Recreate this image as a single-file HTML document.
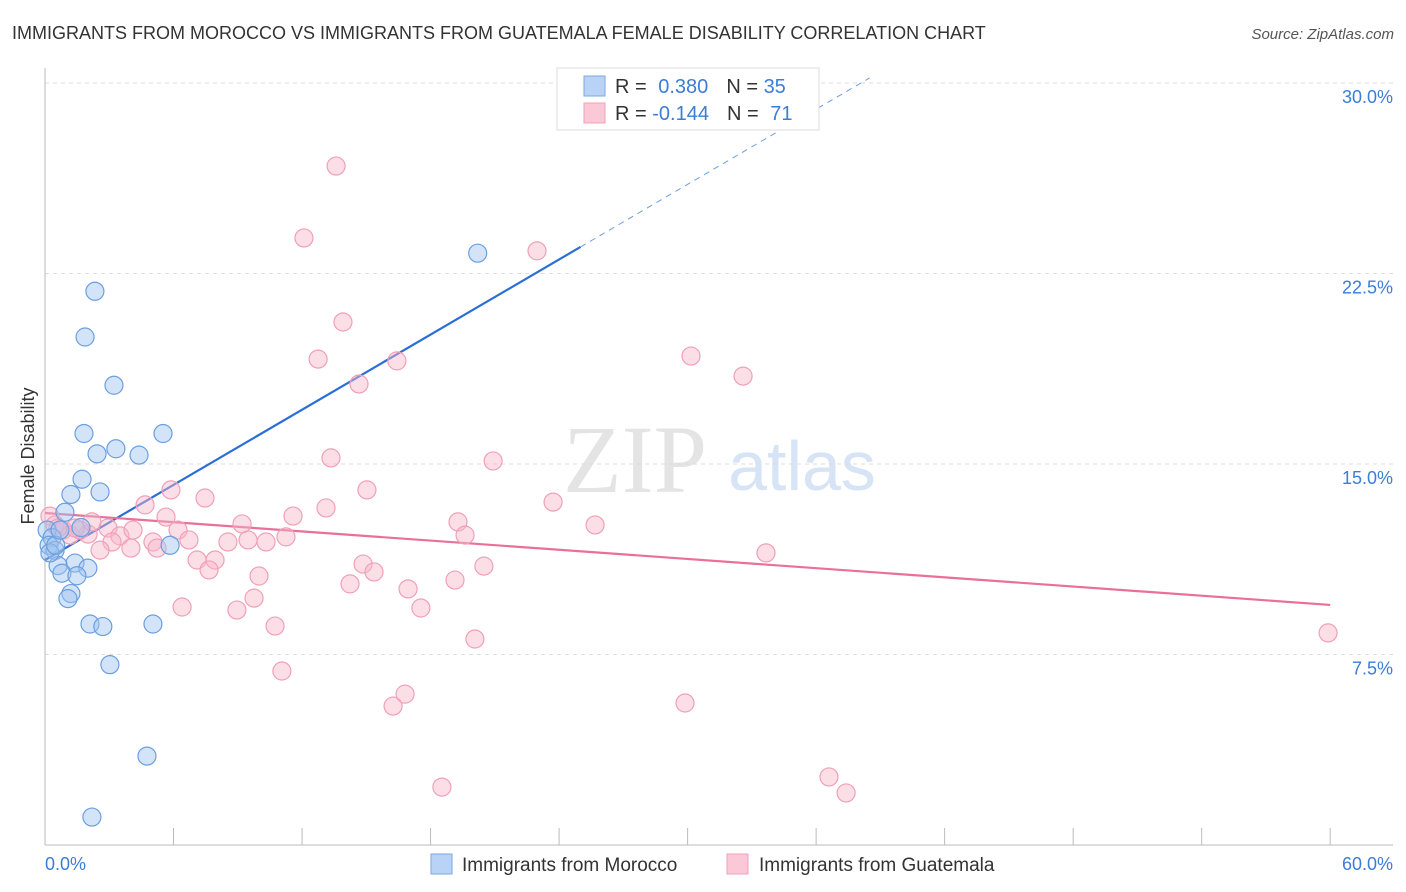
<!DOCTYPE html>
<html><head><meta charset="utf-8"><style>
body{margin:0;background:#fff;font-family:"Liberation Sans",sans-serif;}
svg{display:block}
</style></head><body>
<svg id="chart" width="1406" height="892" xmlns="http://www.w3.org/2000/svg">
<text x="12" y="39" font-size="18" fill="#333">IMMIGRANTS FROM MOROCCO VS IMMIGRANTS FROM GUATEMALA FEMALE DISABILITY CORRELATION CHART</text>
<text x="1394" y="39" font-size="15" fill="#555" font-style="italic" text-anchor="end">Source: ZipAtlas.com</text>
<text x="635" y="492" font-size="96" fill="#e4e4e4" font-family="Liberation Serif,serif" text-anchor="middle">ZIP</text>
<text x="802" y="490" font-size="70" fill="#d6e4f5" text-anchor="middle">atlas</text>
<g id="grid"></g>
<g id="axes"></g>
<text transform="translate(34,456) rotate(-90)" font-size="18" fill="#333" text-anchor="middle">Female Disability</text>
<g id="lines"></g>
<g id="pts"></g>
<g>
<rect x="557" y="68" width="262" height="62" fill="#fff" stroke="#ddd"/>
<rect x="584" y="76" width="21" height="20" fill="#b8d3f5" stroke="#7aa9e6"/>
<rect x="584" y="103" width="21" height="20" fill="#fac8d6" stroke="#f0a0b8"/>
<text x="615" y="93" font-size="20" fill="#333">R = <tspan fill="#3b7dd8" dx="6">0.380</tspan><tspan dx="18" fill="#333">N = </tspan><tspan fill="#3b7dd8">35</tspan></text>
<text x="615" y="120" font-size="20" fill="#333">R = <tspan fill="#3b7dd8">-0.144</tspan><tspan dx="18" fill="#333">N = </tspan><tspan fill="#3b7dd8" dx="6">71</tspan></text>
</g>
<g>
<rect x="431" y="854" width="21" height="20" fill="#b8d3f5" stroke="#7aa9e6"/>
<text x="462" y="871" font-size="19" fill="#333">Immigrants from Morocco</text>
<rect x="727" y="854" width="21" height="20" fill="#fac8d6" stroke="#f0a0b8"/>
<text x="759" y="871" font-size="19" fill="#333">Immigrants from Guatemala</text>
</g>
</svg>
<script>
const blueX=[20.2,2.33,1.87,3.22,1.82,5.51,2.43,3.31,4.39,1.73,1.21,2.57,0.93,1.68,0.1,0.33,0.19,0.47,1.4,0.61,2.0,0.79,1.49,1.21,1.07,2.1,2.7,5.04,5.84,3.03,4.76,2.19,0.23,0.5,0.7];
const blueY=[23.3,21.8,20.0,18.1,16.2,16.2,15.4,15.6,15.35,14.4,13.8,13.9,13.1,12.5,12.4,12.1,11.8,11.6,11.1,11.0,10.9,10.7,10.6,9.9,9.7,8.7,8.6,8.7,11.8,7.1,3.5,1.1,11.5,11.8,12.4];
const pinkX=[13.59,12.09,22.97,13.91,12.75,16.43,30.16,32.59,14.66,13.35,20.92,15.03,5.88,7.47,23.72,4.67,13.12,11.58,5.65,19.28,25.68,9.2,0.23,0.47,0.84,2.01,2.94,3.5,3.13,4.11,6.21,6.72,5.04,5.23,2.57,4.01,8.54,9.48,10.32,11.25,19.61,33.66,7.1,7.94,14.85,20.49,7.66,9.99,15.36,19.14,14.24,16.95,6.4,8.96,9.76,17.55,10.74,20.07,59.9,11.06,16.81,16.25,29.88,18.53,36.6,37.4,1.17,1.63,2.19,1.4,0.61];
const pinkY=[26.73,23.9,23.39,20.59,19.13,19.06,19.25,18.46,18.15,15.24,15.12,13.98,13.98,13.66,13.5,13.39,13.27,12.95,12.91,12.72,12.6,12.64,12.95,12.6,12.4,12.24,12.48,12.17,11.93,12.4,12.4,12.01,11.93,11.69,11.61,11.69,11.93,12.01,11.93,12.13,12.2,11.5,11.22,11.22,11.06,10.98,10.83,10.59,10.75,10.43,10.28,10.08,9.37,9.25,9.72,9.33,8.62,8.11,8.35,6.85,5.94,5.47,5.59,2.28,2.68,2.05,12.2,12.4,12.72,12.48,12.48];
const yTicks=[7.5,15,22.5,30];
const yTickLabels=["7.5%","15.0%","22.5%","30.0%"];
const xTicks=[0,6,12,18,24,30,36,42,48,54,60];
const blueTrend=[11.22,0.493];
const pinkTrend=[13.07,-0.0603];
const NS="http://www.w3.org/2000/svg";
const sx=v=>45+v*21.42, sy=v=>845-v*25.4;
function mk(tag,attrs,parent){const e=document.createElementNS(NS,tag);for(const k in attrs)e.setAttribute(k,attrs[k]);document.getElementById(parent).appendChild(e);return e;}
yTicks.forEach((t,i)=>{
 const g=mk('line',{x1:45,x2:1393,y1:sy(t),y2:sy(t),stroke:'#ddd','stroke-dasharray':'4,4'},'grid');
 
 
 const l=mk('text',{x:1393,y:sy(t)+20,'font-size':18,fill:'#3b7dd8','text-anchor':'end'},'axes');
 l.textContent=yTickLabels[i];
 
 
});
const ya=mk('line',{x1:45,x2:45,y1:68,y2:845,stroke:'#bbb'},'axes');


const xa=mk('line',{x1:45,x2:1393,y1:845,y2:845,stroke:'#bbb'},'axes');


xTicks.forEach(t=>{
 const k=mk('line',{x1:sx(t),x2:sx(t),y1:828,y2:845,stroke:'#bbb'},'axes');
 
 
});
[[0,'start',45,'0.0%'],[60,'end',1393,'60.0%']].forEach(a=>{
 const l=mk('text',{x:a[2],y:870,'font-size':18,fill:'#3b7dd8','text-anchor':a[1]},'axes');
 l.textContent=a[3];
 
 
});
pinkX.forEach((x,i)=>{
 const c=mk('circle',{cx:sx(x),cy:sy(pinkY[i]),r:9,fill:'rgba(248,182,202,0.45)',stroke:'#f0a0b8','stroke-width':1.2},'pts');
 
 
});
blueX.forEach((x,i)=>{
 const c=mk('circle',{cx:sx(x),cy:sy(blueY[i]),r:9,fill:'rgba(160,196,240,0.45)',stroke:'#6a9fe0','stroke-width':1.2},'pts');
 
 
});
const bl=mk('line',{x1:sx(0),y1:sy(blueTrend[0]),x2:sx(25),y2:sy(blueTrend[0]+blueTrend[1]*25),stroke:'#2a6fd6','stroke-width':2.2},'lines');


const bd=mk('line',{x1:sx(25),y1:sy(blueTrend[0]+blueTrend[1]*25),x2:sx(38.5),y2:sy(blueTrend[0]+blueTrend[1]*38.5),stroke:'#6a9fe0','stroke-width':1,'stroke-dasharray':'6,5'},'lines');


const pl=mk('line',{x1:sx(0),y1:sy(pinkTrend[0]),x2:sx(60),y2:sy(pinkTrend[0]+pinkTrend[1]*60),stroke:'#e8709a','stroke-width':2.2},'lines');


</script>
</body></html>
